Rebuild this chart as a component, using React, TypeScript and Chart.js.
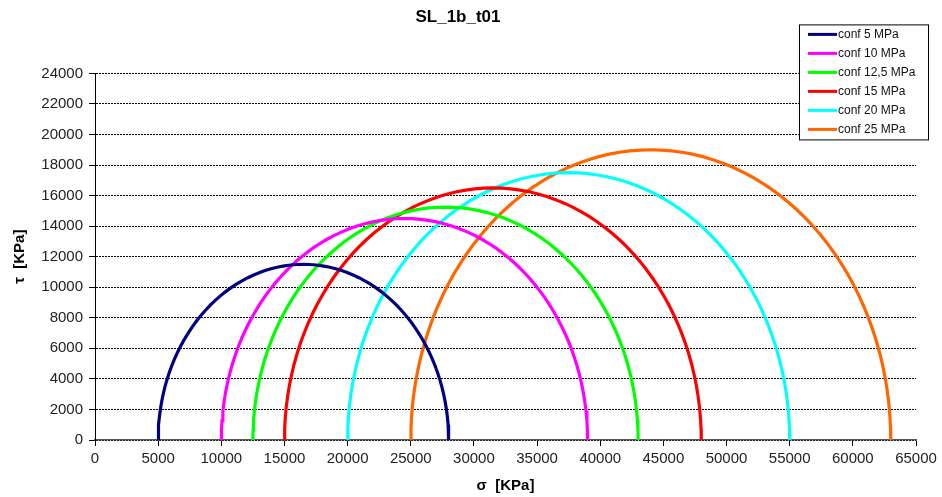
import React, { useEffect, useRef } from "react";
import { Chart, registerables } from "chart.js";

Chart.register(...registerables);

const chartTitle = "SL_1b_t01";
const seriesLabels = ["conf 5 MPa", "conf 10 MPa", "conf 12,5 MPa", "conf 15 MPa", "conf 20 MPa", "conf 25 MPa"];
// principal stresses of each Mohr circle (KPa)
const sigma3 = [5000, 10000, 12500, 15000, 20000, 25000];
const sigma1 = [28000, 39000, 43000, 48000, 55000, 63000];
const seriesColors = ["#000080", "#FF00FF", "#00FF00", "#FF0000", "#00FFFF", "#FF6600"];
const xTitle = "σ  [KPa]";
const yTitle = "τ  [KPa]";
const xMax = 65000;
const xStep = 5000;
const yMax = 24000;
const yStep = 2000;
const SAMPLES = 72;

function mohrCircle(s3: number, s1: number) {
  const c = (s1 + s3) / 2;
  const r = (s1 - s3) / 2;
  const pts: { x: number; y: number }[] = [];
  for (let i = 0; i <= SAMPLES; i++) {
    const t = (Math.PI * i) / SAMPLES;
    pts.push({ x: c - r * Math.cos(t), y: r * Math.sin(t) });
  }
  return pts;
}

const FONT = "'Liberation Sans', Arial, sans-serif";

const legendPlugin = {
  id: "boxLegend",
  afterDraw(chart: any) {
    const ctx = chart.ctx;
    const ca = chart.chartArea;
    const w = 129;
    const x = ca.right + 12 - w;
    const y = ca.top - 49;
    const rowH = 19;
    const h = rowH * chart.data.datasets.length + 1;
    ctx.save();
    ctx.fillStyle = "#ffffff";
    ctx.fillRect(x, y, w, h);
    ctx.strokeStyle = "#000";
    ctx.lineWidth = 1;
    ctx.strokeRect(x + 0.5, y + 0.5, w, h);
    ctx.font = "12px 'Liberation Sans', Arial, sans-serif";
    ctx.textBaseline = "middle";
    ctx.textAlign = "left";
    chart.data.datasets.forEach((ds: any, i: number) => {
      const cy = y + 10 + i * rowH;
      ctx.strokeStyle = ds.borderColor;
      ctx.lineWidth = 3;
      ctx.beginPath();
      ctx.moveTo(x + 9, cy);
      ctx.lineTo(x + 38, cy);
      ctx.stroke();
      ctx.fillStyle = "#111";
      ctx.fillText(ds.label, x + 39, cy);
    });
    ctx.restore();
  },
};

export default function App() {
  const ref = useRef<HTMLCanvasElement>(null);
  useEffect(() => {
    document.body.style.margin = "0";
    const chart = new Chart(ref.current!, {
      type: "scatter",
      data: {
        datasets: seriesLabels.map((label, i) => ({
          label,
          data: mohrCircle(sigma3[i], sigma1[i]),
          showLine: true,
          borderColor: seriesColors[i],
          backgroundColor: seriesColors[i],
          borderWidth: 3.2,
          pointRadius: 0,
          fill: false,
          tension: 0,
        })),
      },
      options: {
        animation: false,
        responsive: false,
        layout: { padding: { left: 0, right: 26, top: 0, bottom: 0 } },
        plugins: {
          legend: { display: false },
          tooltip: { enabled: false },
          title: {
            display: true,
            text: chartTitle,
            color: "#000",
            font: { family: FONT, size: 17, weight: "bold", lineHeight: 1.2 },
            padding: { top: 7, bottom: 46 },
          },
        },
        scales: {
          x: {
            type: "linear",
            min: 0,
            max: xMax,
            afterFit: (s: any) => {
              s.height = 57;
            },
            ticks: {
              stepSize: xStep,
              color: "#222",
              font: { family: FONT, size: 15 },
              padding: 4,
              maxRotation: 0,
              callback: (v: any) => String(v),
            },
            grid: {
              drawOnChartArea: false,
              drawTicks: true,
              tickLength: 6,
              tickColor: "#000",
              color: "#000",
            },
            border: { display: true, color: "#555", width: 1.5 },
            title: {
              display: true,
              text: xTitle,
              color: "#000",
              font: { family: FONT, size: 15, weight: "bold", lineHeight: 1.2 },
              padding: { top: 0, bottom: 2 },
            },
          },
          y: {
            type: "linear",
            min: 0,
            max: yMax,
            afterFit: (s: any) => {
              s.width = 95;
            },
            ticks: {
              stepSize: yStep,
              color: "#222",
              font: { family: FONT, size: 15 },
              padding: 6,
              callback: (v: any) => String(v),
            },
            grid: {
              drawOnChartArea: true,
              drawTicks: true,
              tickLength: 6,
              tickColor: "#000",
              tickBorderDash: [],
              color: "#000",
              lineWidth: 1,
            },
            border: { display: true, color: "#000", width: 1, dash: [2, 1] },
            title: {
              display: true,
              text: yTitle,
              color: "#000",
              font: { family: FONT, size: 15, weight: "bold", lineHeight: 1.2 },
              padding: { top: 11, bottom: 0 },
            },
          },
        },
      },
      plugins: [legendPlugin],
    });
    return () => chart.destroy();
  }, []);
  return (
    <div style={{ position: "fixed", left: 0, top: 0, width: 942, height: 497, background: "#fff" }}>
      <canvas ref={ref} width={942} height={497} />
    </div>
  );
}
